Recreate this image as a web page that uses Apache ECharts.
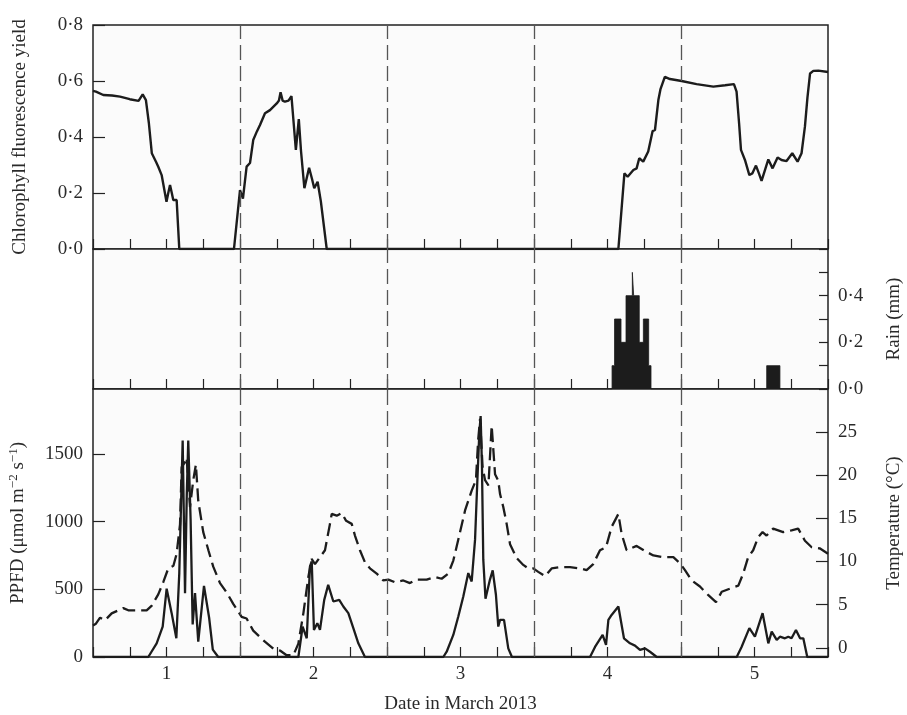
<!DOCTYPE html>
<html>
<head>
<meta charset="utf-8">
<script src="https://cdn.jsdelivr.net/npm/echarts@6/dist/echarts.min.js"></script>
<style>
  html, body { margin: 0; padding: 0; background: #fff; }
  #chart { width: 907px; height: 715px; }
</style>
</head>
<body>
<div id="chart"></div>
<script>
// chlorophyll fluorescence yield
var fluorDay = [0.50, 0.52, 0.57, 0.63, 0.684, 0.75, 0.81, 0.838, 0.86, 0.88, 0.90, 0.93, 0.944, 0.967, 0.978, 1.0, 1.012, 1.024, 1.036, 1.046, 1.069, 1.087,
  1.459, 1.50, 1.52, 1.545, 1.568, 1.59, 1.615, 1.636, 1.67, 1.704, 1.75, 1.765, 1.776, 1.79, 1.806, 1.83, 1.85, 1.865, 1.88, 1.90, 1.915, 1.938, 1.97, 1.99, 2.005, 2.028, 2.05, 2.09,
  4.074, 4.115, 4.137, 4.176, 4.198, 4.216, 4.243, 4.277, 4.307, 4.323, 4.346, 4.36, 4.39, 4.425, 4.504, 4.606, 4.72, 4.80, 4.86, 4.878, 4.895, 4.908, 4.935, 4.965, 4.985,
  5.01, 5.03, 5.048, 5.07, 5.094, 5.123, 5.157, 5.184, 5.218, 5.257, 5.293, 5.32, 5.343, 5.36, 5.378, 5.40, 5.434, 5.50];
var fluorYield = [0.565, 0.562, 0.55, 0.548, 0.544, 0.535, 0.529, 0.552, 0.532, 0.45, 0.342, 0.31, 0.294, 0.264, 0.27, 0.169, 0.2, 0.229, 0.2, 0.175, 0.175, 0.0,
  0.0, 0.21, 0.18, 0.294, 0.307, 0.389, 0.42, 0.443, 0.485, 0.496, 0.52, 0.53, 0.56, 0.53, 0.526, 0.53, 0.546, 0.45, 0.354, 0.464, 0.35, 0.217, 0.29, 0.25, 0.217, 0.24, 0.17, 0.0,
  0.0, 0.27, 0.258, 0.282, 0.288, 0.324, 0.312, 0.348, 0.421, 0.425, 0.532, 0.57, 0.615, 0.607, 0.60, 0.589, 0.58, 0.585, 0.589, 0.562, 0.45, 0.354, 0.318, 0.264, 0.27,
  0.298, 0.27, 0.243, 0.28, 0.32, 0.288, 0.327, 0.318, 0.314, 0.342, 0.312, 0.342, 0.437, 0.54, 0.627, 0.636, 0.637, 0.632];

// rain (mm), stepped
var rainDay = [0.5, 4.031, 4.048, 4.092, 4.126, 4.169, 4.178, 4.216, 4.244, 4.280, 4.296, 5.083, 5.173, 5.5];
var rainMm = [0, 0.1, 0.3, 0.2, 0.4, 0.5, 0.4, 0.2, 0.3, 0.1, 0, 0.1, 0, 0];

// PPFD
var ppfdDay = [0.5, 0.876, 0.933, 0.974, 1.001, 1.035, 1.067, 1.087, 1.11, 1.126, 1.138, 1.148, 1.164, 1.178, 1.194, 1.216, 1.255, 1.29, 1.315, 1.352,
  1.897, 1.926, 1.954, 1.976, 1.988, 2.003, 2.026, 2.044, 2.073, 2.1, 2.135, 2.175, 2.203, 2.237, 2.271, 2.305, 2.35,
  2.883, 2.906, 2.951, 2.985, 3.019, 3.053, 3.076, 3.099, 3.114, 3.128, 3.137, 3.146, 3.155, 3.17, 3.2, 3.219, 3.241, 3.257, 3.269, 3.296, 3.325, 3.35,
  3.881, 3.915, 3.967, 3.99, 4.006, 4.028, 4.074, 4.112, 4.153, 4.187, 4.221, 4.255, 4.289, 4.335,
  4.879, 4.912, 4.965, 5.003, 5.055, 5.094, 5.117, 5.151, 5.173, 5.207, 5.23, 5.252, 5.282, 5.31, 5.332, 5.359, 5.5];
var ppfdVal = [0, 0, 100, 225, 505, 324, 138, 620, 1600, 472, 1200, 1600, 1015, 240, 472, 113, 525, 290, 55, 0,
  0, 225, 138, 669, 706, 200, 250, 200, 422, 533, 410, 422, 373, 324, 213, 101, 0,
  0, 39, 163, 299, 447, 620, 558, 867, 1286, 1657, 1780, 1410, 719, 430, 570, 640, 460, 225, 274, 274, 64, 0,
  0, 74, 163, 89, 274, 311, 373, 138, 101, 84, 52, 64, 39, 0,
  0, 74, 213, 150, 324, 101, 187, 126, 150, 138, 150, 138, 200, 138, 138, 0, 0];

// temperature (°C)
var tempDay = [0.5, 0.52, 0.548, 0.582, 0.627, 0.706, 0.74, 0.808, 0.865, 0.9, 0.944, 0.978, 1.012, 1.047, 1.069, 1.092, 1.103, 1.126, 1.137, 1.16, 1.182, 1.2, 1.216, 1.25, 1.285, 1.318, 1.364, 1.41, 1.454,
  1.511, 1.545, 1.59, 1.658, 1.727, 1.772, 1.817, 1.863, 1.897, 1.931, 1.965, 1.987, 2.01, 2.044, 2.078, 2.112, 2.124, 2.158, 2.192, 2.222, 2.26, 2.282, 2.316, 2.35, 2.384, 2.43, 2.475,
  2.509, 2.554, 2.611, 2.656, 2.701, 2.77, 2.827, 2.872, 2.917, 2.951, 2.997, 3.031, 3.076, 3.105, 3.12, 3.133, 3.15, 3.167, 3.19, 3.212, 3.223, 3.235, 3.257, 3.269, 3.291, 3.314, 3.337, 3.382, 3.427, 3.461,
  3.495, 3.529, 3.575, 3.62, 3.677, 3.745, 3.813, 3.858, 3.903, 3.949, 3.99, 4.028, 4.074, 4.096, 4.13, 4.198, 4.266, 4.312, 4.38, 4.448,
  4.493, 4.527, 4.573, 4.629, 4.686, 4.738, 4.777, 4.855, 4.89, 4.923, 4.957, 4.991, 5.025, 5.055, 5.082, 5.127, 5.195, 5.252, 5.297, 5.343, 5.389, 5.446, 5.5];
var tempVal = [2.6, 2.8, 3.5, 3.2, 4.0, 4.6, 4.35, 4.35, 4.35, 4.9, 6.2, 7.6, 9.2, 9.5, 10.9, 14.3, 20.9, 21.5, 22, 16.3, 19.4, 21.2, 17, 13.4, 11.3, 9.4, 7.5, 6.4, 5.1,
  3.6, 3.4, 2.0, 0.9, -0.1, -0.3, -0.85, -0.85, 0.5, 4.0, 8.2, 10.3, 9.7, 10.5, 11.3, 14.35, 15.5, 15.3, 15.6, 14.7, 14.35, 13, 11.3, 9.9, 9.2, 8.6, 7.8,
  7.9, 7.6, 7.8, 7.5, 7.9, 7.9, 8.2, 8.0, 8.6, 10.1, 13.4, 15.9, 18.2, 19.4, 24, 26.5, 21, 19.4, 18.8, 25.7, 25.5, 20.1, 19.35, 17.8, 16.3, 14.35, 12, 10.4, 9.6, 9.2,
  9.2, 8.8, 8.3, 9.2, 9.35, 9.35, 9.2, 9.0, 9.7, 11.3, 11.65, 14, 15.5, 13.2, 11.3, 11.8, 11.1, 10.7, 10.5, 10.5,
  9.8, 9.0, 7.8, 7.1, 6.1, 5.3, 6.5, 7.0, 7.2, 8.6, 10.5, 11.3, 12.8, 13.4, 13, 13.8, 13.4, 13.6, 13.8, 12.4, 11.65, 11.5, 10.9];

var dayLabels = [1, 2, 3, 4, 5];
var dividers = [1.5, 2.5, 3.5, 4.5];

function zip(xs, ys) {
  return xs.map(function (x, i) { return [x, ys[i]]; });
}
function dot(v) {
  return v.toFixed(1).replace('.', '\u00b7');
}
function plain(v) {
  return String(v);
}

var font = 'Liberation Serif';
var ink = '#1c1c1c';
var textCol = '#2a2a2a';

function xAxisFor(i) {
  return {
    type: 'value', gridIndex: i, min: 0.5, max: 5.5, interval: 0.25,
    axisLine: { show: false },
    axisTick: { show: true, inside: true, length: 10, lineStyle: { color: '#222', width: 1.2 } },
    axisLabel: {
      show: i === 2, customValues: dayLabels, margin: 8,
      fontFamily: font, fontSize: 19, color: textCol
    },
    splitLine: { show: false },
    name: i === 2 ? 'Date in March 2013' : '',
    nameLocation: 'middle', nameGap: 38,
    nameTextStyle: { fontFamily: font, fontSize: 19, color: textCol }
  };
}

var dividerLine = {
  silent: true,
  symbol: ['none', 'none'],
  label: { show: false },
  lineStyle: { color: '#555', type: [15, 6], width: 1.3 },
  data: dividers.map(function (d) { return { xAxis: d }; })
};

var nameStyle = { fontFamily: font, fontSize: 19, color: textCol };
var labelStyle = { fontFamily: font, fontSize: 19, color: textCol, margin: 10 };
var gridBase = { left: 93, right: 79, show: true, borderColor: '#222', borderWidth: 1.5, backgroundColor: '#fbfbfb', outerBoundsMode: 'none', containLabel: false };

var myChart = echarts.init(document.getElementById('chart'));
var option = {
  animation: false,
  backgroundColor: '#fff',
  grid: [
    Object.assign({ top: 25, height: 224 }, gridBase),
    Object.assign({ top: 249, height: 140 }, gridBase),
    Object.assign({ top: 389, height: 268 }, gridBase)
  ],
  xAxis: [xAxisFor(0), xAxisFor(1), xAxisFor(2)],
  yAxis: [
    {
      type: 'value', gridIndex: 0, position: 'left', min: 0, max: 0.8, interval: 0.2,
      axisLine: { show: false },
      axisTick: { inside: true, length: 12, lineStyle: { color: '#222', width: 1.2 } },
      axisLabel: Object.assign({ formatter: dot }, labelStyle),
      splitLine: { show: false },
      name: 'Chlorophyll fluorescence yield', nameLocation: 'middle', nameRotate: 90, nameGap: 63,
      nameTextStyle: nameStyle
    },
    {
      type: 'value', gridIndex: 1, position: 'right', min: 0, max: 0.6, interval: 0.1,
      axisLine: { show: false },
      axisTick: { inside: true, length: 9, lineStyle: { color: '#222', width: 1.2 } },
      axisLabel: Object.assign({ formatter: dot, customValues: [0, 0.2, 0.4] }, labelStyle),
      splitLine: { show: false },
      name: 'Rain (mm)', nameLocation: 'middle', nameRotate: 90, nameGap: 57,
      nameTextStyle: nameStyle
    },
    {
      type: 'value', gridIndex: 2, position: 'left', min: 0, max: 1980,
      axisLine: { show: false },
      axisTick: { inside: true, length: 12, customValues: [0, 500, 1000, 1500], lineStyle: { color: '#222', width: 1.2 } },
      axisLabel: Object.assign({ customValues: [0, 500, 1000, 1500], formatter: plain }, labelStyle),
      splitLine: { show: false },
      name: 'PPFD (\u03bcmol m{sup|\u22122} s{sup|\u22121})', nameLocation: 'middle', nameRotate: 90, nameGap: 63,
      nameTextStyle: Object.assign({
        rich: { sup: { fontFamily: font, fontSize: 13, color: textCol, verticalAlign: 'top', padding: [0, 0, 10, 0] } }
      }, nameStyle)
    },
    {
      type: 'value', gridIndex: 2, position: 'right', min: -1.05, max: 29.95,
      axisLine: { show: false },
      axisTick: { inside: true, length: 12, customValues: [0, 5, 10, 15, 20, 25], lineStyle: { color: '#222', width: 1.2 } },
      axisLabel: Object.assign({ customValues: [0, 5, 10, 15, 20, 25], formatter: plain }, labelStyle),
      splitLine: { show: false },
      name: 'Temperature (\u00b0C)', nameLocation: 'middle', nameRotate: 90, nameGap: 57,
      nameTextStyle: nameStyle
    }
  ],
  series: [
    {
      name: 'Fluorescence', type: 'line', xAxisIndex: 0, yAxisIndex: 0,
      data: zip(fluorDay, fluorYield), showSymbol: false, smooth: false,
      lineStyle: { color: ink, width: 2.4 },
      markLine: dividerLine
    },
    {
      name: 'Rain', type: 'line', xAxisIndex: 1, yAxisIndex: 1, step: 'end',
      data: zip(rainDay, rainMm), showSymbol: false,
      lineStyle: { color: ink, width: 0.8 },
      areaStyle: { color: ink, opacity: 1 },
      markLine: dividerLine
    },
    {
      name: 'PPFD', type: 'line', xAxisIndex: 2, yAxisIndex: 2,
      data: zip(ppfdDay, ppfdVal), showSymbol: false,
      lineStyle: { color: ink, width: 2.3 },
      markLine: dividerLine
    },
    {
      name: 'Temperature', type: 'line', xAxisIndex: 2, yAxisIndex: 3,
      data: zip(tempDay, tempVal), showSymbol: false,
      lineStyle: { color: ink, width: 2.3, type: [13, 6] }
    }
  ]
};
myChart.setOption(option);
</script>
</body>
</html>
